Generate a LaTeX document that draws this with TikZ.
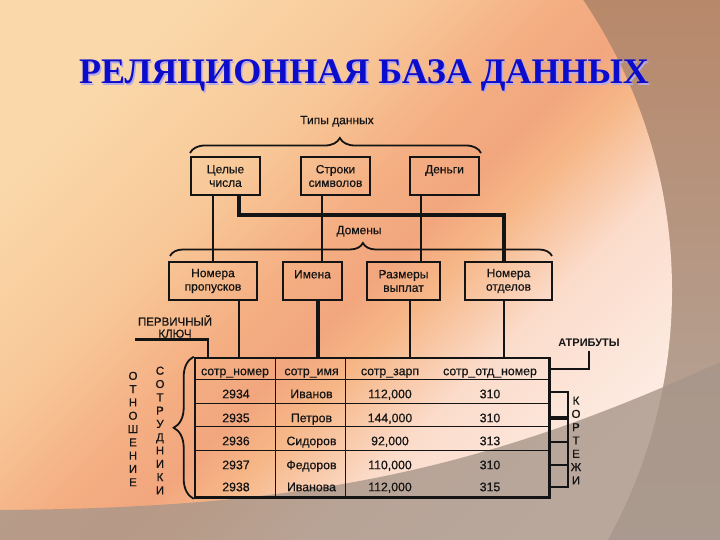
\documentclass[tikz,border=0pt]{standalone}
\usepackage{fontspec}
\setmainfont{Liberation Sans}[FakeBold=0.5]
\newfontfamily\titlefont{Liberation Serif}
\newfontfamily\boldsans{Liberation Sans Bold}
\usetikzlibrary{decorations.pathreplacing,calc}
\definecolor{bgA}{HTML}{FAD8AA}
\definecolor{bgB}{HTML}{F8C898}
\definecolor{bgC}{HTML}{F4AE82}
\definecolor{bgD}{HTML}{F2A67E}
\definecolor{bgE}{HTML}{F6B686}
\definecolor{bgF}{HTML}{FBDCCB}
\definecolor{bgG}{HTML}{FDEDE5}
\definecolor{outTop}{HTML}{B8886A}
\definecolor{outMid}{HTML}{C4A282}
\definecolor{outBot}{HTML}{B3A89F}
\definecolor{band}{HTML}{A8968A}
\definecolor{titleblue}{HTML}{0C0CCC}
\definecolor{titleshadow}{HTML}{B4A8E6}
\definecolor{ink}{HTML}{141414}
\pgfdeclareverticalshading{bgdiag}{100bp}{color(0bp)=(bgG); color(25bp)=(bgG); color(37.5bp)=(bgF); color(45bp)=(bgE); color(48.75bp)=(bgD); color(53.75bp)=(bgC); color(62.5bp)=(bgB); color(75bp)=(bgA); color(100bp)=(bgA)}
\begin{document}
\begin{tikzpicture}[x=1pt,y=-1pt,
  every node/.style={text=ink, inner sep=0pt},
  lbl/.style={font=\fontsize{12}{13.5}\selectfont, align=center},
  box/.style={draw=ink, line width=1.3pt, minimum height=38pt, align=center, font=\fontsize{12}{13.5}\selectfont},
  conn/.style={draw=ink, line width=2.4pt},
  heavy/.style={draw=ink, line width=4pt},
  brc/.style={draw=ink, line width=1.8pt, decorate},
  grid/.style={draw=ink, line width=1.4pt},
  cell/.style={font=\fontsize{12.3}{13.5}\selectfont, text height=9pt, text depth=2.6pt},
  stack/.style={font=\fontsize{11.5}{13.3}\selectfont, align=center},
  ttl/.style={font=\titlefont\bfseries\fontsize{36}{40}\selectfont, anchor=base},
]
\useasboundingbox (0,0) rectangle (720,540);
% background
\shade[top color=outTop, middle color=outMid, bottom color=outBot] (0,0) rectangle (720,540);
\begin{scope}
  \clip (155,290) circle[radius=517];
  \shade[shading=bgdiag, shading angle=45] (0,0) rectangle (720,540);
\end{scope}
\fill[band, opacity=0.8] (0,510) .. controls (300,508) and (480,472) .. (720,362) -- (720,540) -- (0,540) -- cycle;

% title
\node[ttl, text=titleshadow] (titleSh) at (365.5,85.5) {РЕЛЯЦИОННАЯ БАЗА ДАННЫХ};
\node[ttl, text=titleblue] (title) at (364,84) {РЕЛЯЦИОННАЯ БАЗА ДАННЫХ};

% data types
\node[lbl, text height=9pt, text depth=2.6pt] (tipy) at (337,121) {Типы данных};
\draw[brc, decoration={brace, amplitude=15pt, aspect=0.515}] (190,153) -- (481,153);
\node[box, minimum width=69pt] (celye) at (225.5,176) {Целые\\числа};
\node[box, minimum width=69pt] (stroki) at (335.5,176) {Строки\\символов};
\node[box, minimum width=69pt] (dengi) at (444.5,176) {Деньги\\\mbox{}};

% domains
\node[lbl, text height=9pt, text depth=2.6pt] (domeny) at (359,231) {Домены};
\draw[brc, decoration={brace, amplitude=13pt, aspect=0.505}] (170,256) -- (552,256);
\node[box, minimum width=88pt] (nomprop) at (213,281) {Номера\\пропусков};
\node[box, minimum width=59pt] (imena) at (312.5,281) {Имена\\\mbox{}};
\node[box, minimum width=73pt] (razm) at (403.5,281) {Размеры\\выплат};
\node[box, minimum width=87pt] (nomotd) at (508.5,281) {Номера\\отделов};

% type -> domain connectors
\draw[conn] (celye.south -| nomprop.north) -- (nomprop.north);
\coordinate (sI) at ($(imena.north)+(9.5,0)$);
\draw[conn] (sI |- stroki.south) -- (sI);
\coordinate (dR) at ($(razm.north)+(17.5,0)$);
\draw[conn] (dR |- dengi.south) -- (dR);
\coordinate (cT) at ($(celye.south)+(13.5,0)$);
\coordinate (oT) at ($(nomotd.north)+(-4.5,0)$);
\draw[heavy] (cT) -- ++(0,19) -| (oT);

% table
\node[draw=ink, line width=2.6pt, minimum width=354.5pt, minimum height=139.5pt] (tbl) at (372.25,427.75) {};
\foreach \dy in {23,47,70,94}
  \draw[grid] ($(tbl.north west)+(0,\dy)$) -- ($(tbl.north east)+(0,\dy)$);
\foreach \dx in {82,152}
  \draw[grid] ($(tbl.north west)+(\dx,0)$) -- ($(tbl.south west)+(\dx,0)$);

\node[cell] (h1) at (235,372) {сотр\_номер};
\node[cell] (h2) at (311.5,372) {сотр\_имя};
\node[cell] (h3) at (390,372) {сотр\_зарп};
\node[cell] (h4) at (490,372) {сотр\_отд\_номер};

\foreach \n/\y/\a/\b/\c/\d in {1/395/2934/Иванов/{112,000}/310, 2/419/2935/Петров/{144,000}/310, 3/442/2936/Сидоров/{92,000}/313, 4/466/2937/Федоров/{110,000}/310, 5/488/2938/Иванова/{112,000}/315}{
  \node[cell] (r\n c1) at (236,\y) {\a};
  \node[cell] (r\n c2) at (311.5,\y) {\b};
  \node[cell] (r\n c3) at (390,\y) {\c};
  \node[cell] (r\n c4) at (490,\y) {\d};
}

% domain -> attribute connectors
\coordinate (pN) at ($(nomprop.south)+(26,0)$);
\draw[conn] (pN) -- (pN |- tbl.north);
\coordinate (pI) at ($(imena.south)+(5.5,0)$);
\draw[heavy] (pI) -- (pI |- tbl.north);
\coordinate (pR) at ($(razm.south)+(6.5,0)$);
\draw[conn] (pR) -- (pR |- tbl.north);
\coordinate (pO) at ($(nomotd.south)+(-4.5,0)$);
\draw[conn] (pO) -- (pO |- tbl.north);

% primary key
\node[lbl, font=\fontsize{11.5}{12}\selectfont] (pk) at (175,326.5) {ПЕРВИЧНЫЙ\\КЛЮЧ};
\coordinate (pkL) at (135,339.5);
\coordinate (pkT) at ($(tbl.north west)+(14.5,0)$);
\draw[conn] (pkL) -| (pkT);

% attributes
\node[font=\boldsans\fontsize{11}{12}\selectfont] (attr) at (589,343) {АТРИБУТЫ};
\coordinate (atT) at (tbl.east |- 0,369);
\draw[conn] ([yshift=-4pt]attr.south) |- (atT);

% tuples
\coordinate (k1) at (tbl.east |- 0,392);
\coordinate (k2) at (tbl.east |- 0,418);
\coordinate (k3) at (tbl.east |- 0,442);
\coordinate (k4) at (tbl.east |- 0,465);
\coordinate (k5) at (tbl.east |- 0,487);
\draw[conn, line width=2pt] (k1) -- ++(17.5,0) -- ($(k5)+(17.5,0)$) -- (k5);
\draw[conn, line width=2pt] (k3) -- ++(17.5,0);
\draw[conn, line width=2pt] (k4) -- ++(17.5,0);
\draw[conn, line width=3.2pt] (k2) -- ++(17.5,0);
\node[stack] (kort) at (576,440.5) {К\\О\\Р\\Т\\Е\\Ж\\И};

% relation
\draw[brc, decoration={brace, amplitude=20pt}] (tbl.south west) -- (tbl.north west);
\node[stack] (otn) at (133,429) {О\\Т\\Н\\О\\Ш\\Е\\Н\\И\\Е};
\node[stack] (sotr) at (160,430.5) {С\\О\\Т\\Р\\У\\Д\\Н\\И\\К\\И};
\end{tikzpicture}
\end{document}
